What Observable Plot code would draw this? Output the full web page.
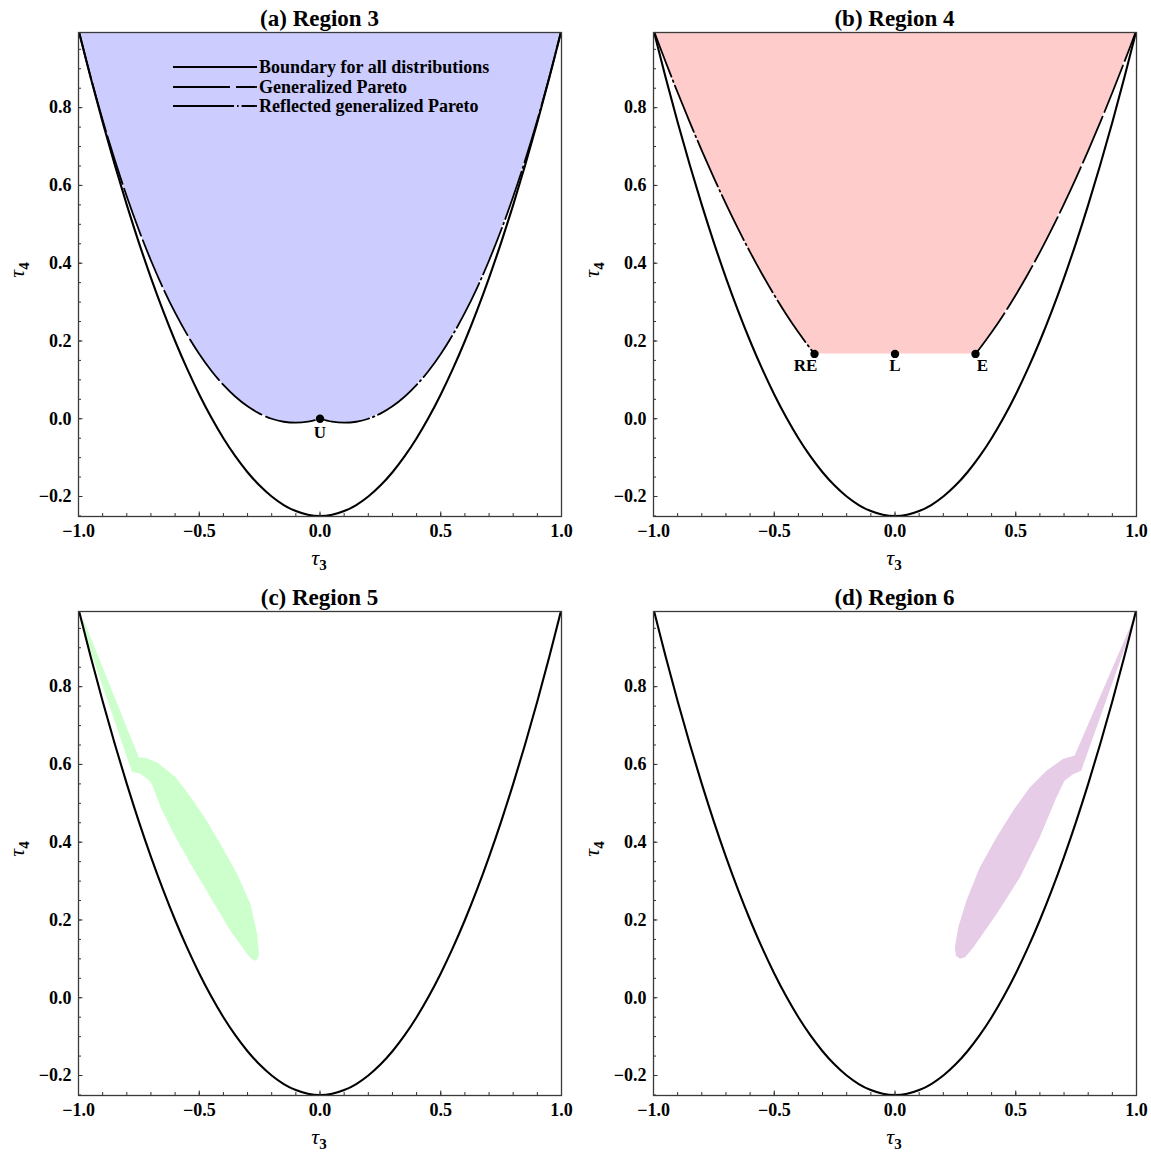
<!DOCTYPE html>
<html>
<head>
<meta charset="utf-8">
<script src="https://cdn.jsdelivr.net/npm/d3@7"></script>
<script src="https://cdn.jsdelivr.net/npm/@observablehq/plot@0.6"></script>
<style>
  body { margin: 0; background: #fff; font-family: "Liberation Serif", "Times New Roman", serif; }
  #root { position: relative; width: 1151px; height: 1153px; }
  .wrap { position: absolute; width: 576px; height: 572px; }
  .title { position: absolute; font-weight: bold; font-size: 23px; line-height: 1; transform: translate(-50%, -50%); white-space: nowrap; color: #000; }
  .xlab, .ylab { position: absolute; font-size: 22px; line-height: 1; white-space: nowrap; color: #000; }
  .xlab { transform: translate(-50%, -50%); }
  .ylab { transform: translate(-50%, -50%) rotate(-90deg); }
  .xlab sub, .ylab sub { font-size: 15px; line-height: 1; font-style: normal; font-weight: bold; vertical-align: -5px; }
  .legend { position: absolute; left: 0; top: 0; }
</style>
</head>
<body>
<div id="root"></div>
<script>
// ---------- data ----------
const tau3 = [-1, -0.95, -0.9, -0.85, -0.8, -0.75, -0.7, -0.65, -0.6, -0.55, -0.5, -0.45, -0.4, -0.35, -0.3, -0.25, -0.2, -0.15, -0.1, -0.05, 0,
              0.05, 0.1, 0.15, 0.2, 0.25, 0.3, 0.35, 0.4, 0.45, 0.5, 0.55, 0.6, 0.65, 0.7, 0.75, 0.8, 0.85, 0.9, 0.95, 1];
const boundary = [1, 0.8781, 0.7625, 0.6531, 0.55, 0.4531, 0.3625, 0.2781, 0.2, 0.1281, 0.0625, 0.0031, -0.05, -0.0969, -0.1375, -0.1719, -0.2, -0.2219, -0.2375, -0.2469, -0.25,
                  -0.2469, -0.2375, -0.2219, -0.2, -0.1719, -0.1375, -0.0969, -0.05, 0.0031, 0.0625, 0.1281, 0.2, 0.2781, 0.3625, 0.4531, 0.55, 0.6531, 0.7625, 0.8781, 1];
const genPareto = [1, 0.8796, 0.7683, 0.6657, 0.5714, 0.4853, 0.4070, 0.3362, 0.2727, 0.2163, 0.1667, 0.1236, 0.0870, 0.0565, 0.0319, 0.0132, 0, -0.0077, -0.0102, -0.0076, 0,
                   0.0124, 0.0294, 0.0510, 0.0769, 0.1071, 0.1415, 0.1799, 0.2222, 0.2683, 0.3182, 0.3716, 0.4286, 0.4889, 0.5526, 0.6196, 0.6897, 0.7628, 0.8390, 0.9181, 1];
const refGenPareto = [1, 0.9181, 0.8390, 0.7628, 0.6897, 0.6196, 0.5526, 0.4889, 0.4286, 0.3716, 0.3182, 0.2683, 0.2222, 0.1799, 0.1415, 0.1071, 0.0769, 0.0510, 0.0294, 0.0124, 0,
                      -0.0076, -0.0102, -0.0077, 0, 0.0132, 0.0319, 0.0565, 0.0870, 0.1236, 0.1667, 0.2163, 0.2727, 0.3362, 0.4070, 0.4853, 0.5714, 0.6657, 0.7683, 0.8796, 1];

// special points
const uniformLabel = ["U"];
const uniformTau3 = [0];
const uniformTau4 = [0];
const region4Labels = ["RE", "L", "E"];
const region4Tau3 = [-0.3333, 0, 0.3333];
const region4Tau4 = [0.1667, 0.1667, 0.1667];

// region 5 (green) outline
const region5Tau3 = [-0.997, -0.978, -0.750, -0.724, -0.674, -0.598, -0.540, -0.474, -0.412, -0.343, -0.288, -0.260, -0.253, -0.258,
                     -0.267, -0.285, -0.301, -0.371, -0.453, -0.536, -0.605, -0.660, -0.695, -0.709, -0.743, -0.771, -0.778, -0.989];
const region5Tau4 = [0.985, 0.970, 0.618, 0.617, 0.605, 0.567, 0.520, 0.460, 0.395, 0.318, 0.241, 0.164, 0.112, 0.100,
                     0.095, 0.100, 0.112, 0.172, 0.258, 0.344, 0.421, 0.490, 0.548, 0.560, 0.576, 0.580, 0.580, 0.962];
// region 6 (purple) outline
const region6Tau3 = [0.997, 0.985, 0.744, 0.695, 0.627, 0.558, 0.489, 0.420, 0.351, 0.296, 0.262, 0.248, 0.252, 0.269,
                     0.290, 0.324, 0.420, 0.517, 0.599, 0.668, 0.702, 0.737, 0.771, 0.992];
const region6Tau4 = [0.985, 0.970, 0.623, 0.614, 0.584, 0.541, 0.481, 0.412, 0.335, 0.250, 0.181, 0.129, 0.108, 0.100,
                     0.104, 0.129, 0.215, 0.309, 0.412, 0.515, 0.558, 0.575, 0.584, 0.970];

const xTicks = [-1, -0.5, 0, 0.5, 1];
const yTicks = [-0.2, 0, 0.2, 0.4, 0.6, 0.8];
const titles = ["(a) Region 3", "(b) Region 4", "(c) Region 5", "(d) Region 6"];
const legendLabels = ["Boundary for all distributions", "Generalized Pareto", "Reflected generalized Pareto"];

// ---------- styles ----------
const GP_DASH = "50,5";
const RGP_DASH = "50,4,1.6,4";
const W = 576, H = 575, MT = 32, MB = 59, ML = 78, MR = 15;
const innerW = W - ML - MR, innerH = H - MT - MB;
const fmt = d3.format(".1f");

const idx = tau3.map((_, i) => i);

function frameMarks() {
  const minorX = d3.range(-10, 11).map(d => d / 10);
  const minorY = d3.range(-5, 20).map(d => d / 20);
  return [
    Plot.tickX(minorX, {x: d => d, insetTop: innerH - 3, stroke: "#333", strokeWidth: 1}),
    Plot.tickY(minorY, {y: d => d, insetRight: innerW - 3, stroke: "#333", strokeWidth: 1}),
    Plot.tickX(xTicks, {x: d => d, insetTop: innerH - 4.5, stroke: "#333", strokeWidth: 1}),
    Plot.tickY(yTicks, {y: d => d, insetRight: innerW - 4.5, stroke: "#333", strokeWidth: 1}),
    Plot.axisX(xTicks, {tickSize: 0, tickPadding: 8, tickFormat: fmt, label: null, fill: "#000"}),
    Plot.axisY(yTicks, {tickSize: 0, tickPadding: 7, tickFormat: fmt, label: null, fill: "#000"}),
    Plot.frame({stroke: "#3a3a3a", strokeWidth: 1.3})
  ];
}

function boundaryMark() {
  return Plot.line(idx, {x: i => tau3[i], y: i => boundary[i], stroke: "#000", strokeWidth: 2.1, curve: "catmull-rom", clip: true});
}

function makePlot(marks) {
  return Plot.plot({
    width: W, height: H, marginTop: MT, marginBottom: MB, marginLeft: ML, marginRight: MR,
    x: {domain: [-1, 1]},
    y: {domain: [-0.2514, 0.9933]},
    style: {fontFamily: '"Liberation Serif", "Times New Roman", serif', fontSize: "18px", fontWeight: "bold", background: "transparent", color: "#000", overflow: "visible"},
    marks: [...marks, ...frameMarks()]
  });
}

const root = document.getElementById("root");
function addPanel(left, top, k, svg, extra) {
  const wrap = document.createElement("div");
  wrap.className = "wrap";
  wrap.style.left = left + "px";
  wrap.style.top = top + "px";
  wrap.appendChild(svg);
  const t = document.createElement("div");
  t.className = "title"; t.textContent = titles[k];
  t.style.left = "319.5px"; t.style.top = "18px";
  wrap.appendChild(t);
  const xl = document.createElement("div");
  xl.className = "xlab"; xl.innerHTML = "<i>τ</i><sub>3</sub>";
  xl.style.left = "319px"; xl.style.top = "560px";
  wrap.appendChild(xl);
  const yl = document.createElement("div");
  yl.className = "ylab"; yl.innerHTML = "<i>τ</i><sub>4</sub>";
  yl.style.left = "19px"; yl.style.top = "270px";
  wrap.appendChild(yl);
  if (extra) wrap.appendChild(extra);
  root.appendChild(wrap);
}

// ---------- panel (a) Region 3 ----------
const lower3 = idx.map(i => tau3[i] <= 0 ? genPareto[i] : refGenPareto[i]);
const leftIdx = idx.filter(i => tau3[i] <= 0);
const rightIdx = idx.filter(i => tau3[i] >= 0);
const svgA = makePlot([
  Plot.areaY(idx, {x: i => tau3[i], y1: i => lower3[i], y2: () => 1, fill: "#ccccff", clip: true}),
  boundaryMark(),
  Plot.line(leftIdx, {x: i => tau3[i], y: i => genPareto[i], stroke: "#000", strokeWidth: 1.8, strokeDasharray: GP_DASH, curve: "catmull-rom", clip: true}),
  Plot.line(rightIdx, {x: i => tau3[i], y: i => refGenPareto[i], stroke: "#000", strokeWidth: 1.8, strokeDasharray: RGP_DASH, curve: "catmull-rom", clip: true}),
  Plot.dot([0], {x: i => uniformTau3[i], y: i => uniformTau4[i], r: 4.2, fill: "#000"}),
  Plot.text([0], {x: i => uniformTau3[i], y: i => uniformTau4[i], text: i => uniformLabel[i], dy: 14, fontSize: 17, fontWeight: "bold", fill: "#000"})
]);

// legend
const legNS = "http://www.w3.org/2000/svg";
const leg = document.createElementNS(legNS, "svg");
leg.setAttribute("class", "legend");
leg.setAttribute("width", "576"); leg.setAttribute("height", "130");
const legDash = [null, "57,6", "61,3,1.6,3"];
const legY = [67, 87, 106];
legendLabels.forEach((lab, j) => {
  const ln = document.createElementNS(legNS, "line");
  ln.setAttribute("x1", 173); ln.setAttribute("x2", 257);
  ln.setAttribute("y1", legY[j]); ln.setAttribute("y2", legY[j]);
  ln.setAttribute("stroke", "#000"); ln.setAttribute("stroke-width", "1.8");
  if (legDash[j]) ln.setAttribute("stroke-dasharray", legDash[j]);
  leg.appendChild(ln);
  const tx = document.createElementNS(legNS, "text");
  tx.setAttribute("x", 259); tx.setAttribute("y", legY[j]);
  tx.setAttribute("dominant-baseline", "central");
  tx.setAttribute("font-family", '"Liberation Serif", serif');
  tx.setAttribute("font-weight", "bold"); tx.setAttribute("font-size", "18");
  tx.textContent = lab;
  leg.appendChild(tx);
});
addPanel(0, 0, 0, svgA, leg);

// ---------- panel (b) Region 4 ----------
const r4x = [], r4lo = [];
idx.forEach(i => { if (tau3[i] <= -0.35) { r4x.push(tau3[i]); r4lo.push(refGenPareto[i]); } });
r4x.push(region4Tau3[0]); r4lo.push(region4Tau4[0]);
r4x.push(region4Tau3[2]); r4lo.push(region4Tau4[2]);
idx.forEach(i => { if (tau3[i] >= 0.35) { r4x.push(tau3[i]); r4lo.push(genPareto[i]); } });
const r4idx = r4x.map((_, i) => i);
const rgpX = [], rgpY = [], gpX = [], gpY = [];
idx.forEach(i => { if (tau3[i] <= -0.35) { rgpX.push(tau3[i]); rgpY.push(refGenPareto[i]); } });
rgpX.push(region4Tau3[0]); rgpY.push(region4Tau4[0]);
gpX.push(region4Tau3[2]); gpY.push(region4Tau4[2]);
idx.forEach(i => { if (tau3[i] >= 0.35) { gpX.push(tau3[i]); gpY.push(genPareto[i]); } });
const labelDx = {RE: -9, L: 0, E: 7};
const svgB = makePlot([
  Plot.areaY(r4idx, {x: i => r4x[i], y1: i => r4lo[i], y2: () => 1, fill: "#ffcccc", clip: true}),
  boundaryMark(),
  Plot.line(rgpX.map((_, i) => i), {x: i => rgpX[i], y: i => rgpY[i], stroke: "#000", strokeWidth: 1.8, strokeDasharray: RGP_DASH, curve: "catmull-rom", clip: true}),
  Plot.line(gpX.map((_, i) => i), {x: i => gpX[i], y: i => gpY[i], stroke: "#000", strokeWidth: 1.8, strokeDasharray: GP_DASH, curve: "catmull-rom", clip: true}),
  Plot.dot([0, 1, 2], {x: i => region4Tau3[i], y: i => region4Tau4[i], r: 4.2, fill: "#000"}),
  ...region4Labels.map((lab, i) =>
    Plot.text([i], {x: j => region4Tau3[j], y: j => region4Tau4[j], text: j => region4Labels[j], dy: 12, dx: labelDx[lab], fontSize: 17, fontWeight: "bold", fill: "#000"}))
]);
addPanel(575, 0, 1, svgB);

// ---------- panel (c) Region 5 ----------
const svgC = makePlot([
  Plot.line(region5Tau3.map((_, i) => i), {x: i => region5Tau3[i], y: i => region5Tau4[i], fill: "#ccffcc", stroke: "none", curve: "linear-closed", clip: true}),
  boundaryMark()
]);
addPanel(0, 579, 2, svgC);

// ---------- panel (d) Region 6 ----------
const svgD = makePlot([
  Plot.line(region6Tau3.map((_, i) => i), {x: i => region6Tau3[i], y: i => region6Tau4[i], fill: "#e6cce6", stroke: "none", curve: "linear-closed", clip: true}),
  boundaryMark()
]);
addPanel(575, 579, 3, svgD);
</script>
</body>
</html>
